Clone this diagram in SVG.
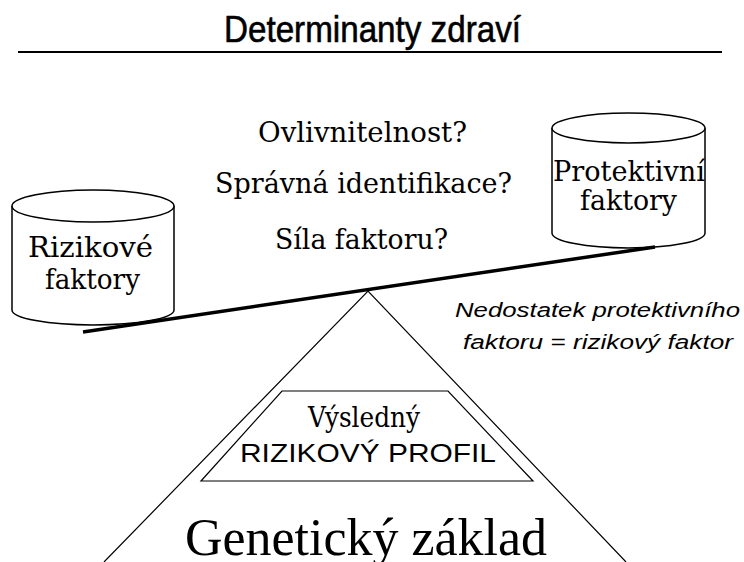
<svg xmlns="http://www.w3.org/2000/svg" width="744" height="562" viewBox="0 0 744 562">
<style>
.bg{fill:#fff}
.q{font-family:"DejaVu Serif","Liberation Serif",serif;font-size:28px;fill:#000}
.cyl{fill:#fff;stroke:#000;stroke-width:1.5}
.thin{fill:none;stroke:#000;stroke-width:1.2}
.note{font-family:"Liberation Sans",Arial,sans-serif;font-style:italic;font-size:20px;fill:#000}
</style>
<rect class="bg" x="0" y="0" width="744" height="562"/>
<g id="title">
<text x="224" y="42" font-family="Liberation Sans, Arial, sans-serif" font-size="37" stroke="#000" stroke-width="0.6" textLength="297" lengthAdjust="spacingAndGlyphs">Determinanty zdraví</text>
<line x1="18" y1="52" x2="722" y2="52" stroke="#000" stroke-width="2"/>
</g>
<g id="questions">
<text class="q" x="258" y="142" textLength="209" lengthAdjust="spacingAndGlyphs">Ovlivnitelnost?</text>
<text class="q" x="215" y="193" textLength="297" lengthAdjust="spacingAndGlyphs">Správná identifikace?</text>
<text class="q" x="275" y="249" textLength="173" lengthAdjust="spacingAndGlyphs">Síla faktoru?</text>
</g>
<g id="pyramid">
<polyline class="thin" points="104,562 368,291 626,562"/>
</g>
<g id="profile">
<polygon class="thin" points="282,391 448,391 533,481 201,481"/>
<text class="q" x="308" y="427" font-size="23" textLength="112" lengthAdjust="spacingAndGlyphs">Výsledný</text>
<text x="240" y="462" font-family="Liberation Sans, Arial, sans-serif" font-size="26" textLength="256" lengthAdjust="spacingAndGlyphs">RIZIKOVÝ PROFIL</text>
</g>
<g id="genetic">
<text x="185" y="555" font-family="Liberation Serif, Times New Roman, serif" font-size="52" textLength="362" lengthAdjust="spacingAndGlyphs">Genetický základ</text>
</g>
<g id="risk-factors">
<path class="cyl" d="M12,206 V310 A81,15 0 0 0 174,310 V206"/>
<ellipse class="cyl" cx="93" cy="206" rx="81" ry="16"/>
<text class="q" x="28" y="257" textLength="125" lengthAdjust="spacingAndGlyphs">Rizikové</text>
<text class="q" x="45" y="289" textLength="95" lengthAdjust="spacingAndGlyphs">faktory</text>
</g>
<g id="protective-factors">
<path class="cyl" d="M552,128 V233 A76.5,15 0 0 0 705,233 V128"/>
<ellipse class="cyl" cx="628.5" cy="128" rx="76.5" ry="15"/>
<text class="q" x="553" y="181" font-size="27" textLength="152" lengthAdjust="spacingAndGlyphs">Protektivní</text>
<text class="q" x="580" y="210" font-size="27" textLength="97" lengthAdjust="spacingAndGlyphs">faktory</text>
</g>
<g id="connectors">
<line x1="83" y1="332" x2="655" y2="247" stroke="#000" stroke-width="3.5"/>
</g>
<g id="note">
<text class="note" x="455" y="317" textLength="285" lengthAdjust="spacingAndGlyphs">Nedostatek protektivního</text>
<text class="note" x="463" y="349" textLength="270" lengthAdjust="spacingAndGlyphs">faktoru = rizikový faktor</text>
</g>
</svg>
